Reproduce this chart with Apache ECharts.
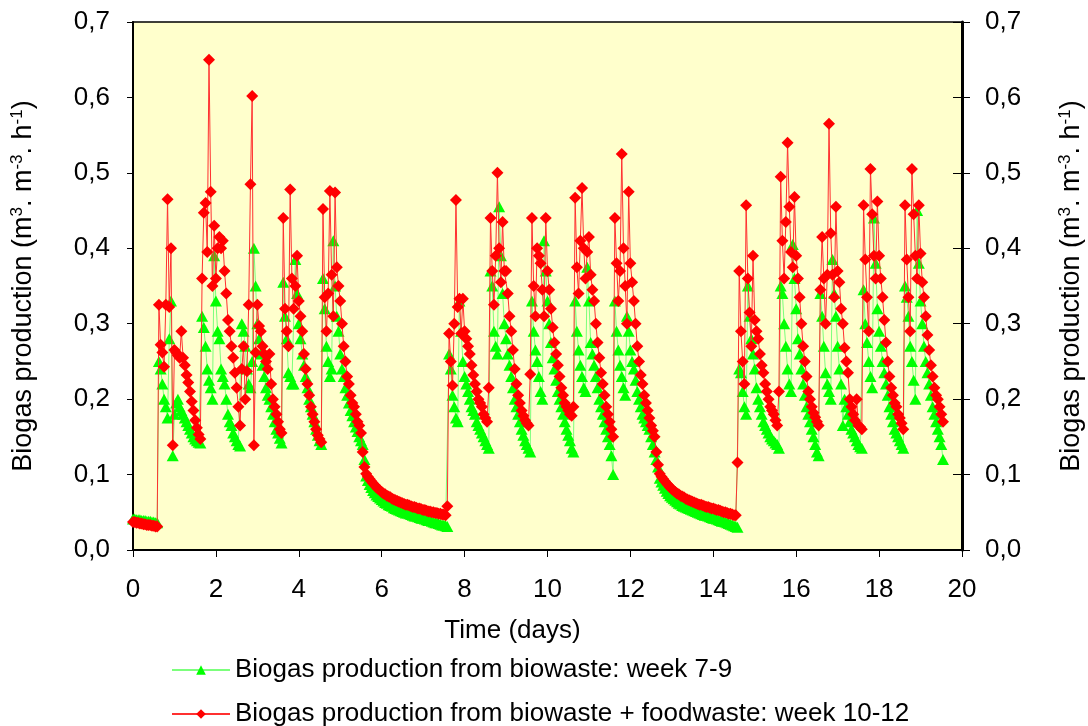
<!DOCTYPE html>
<html>
<head>
<meta charset="utf-8">
<script src="https://cdn.jsdelivr.net/npm/echarts@6/dist/echarts.min.js"></script>
<style>
html,body{margin:0;padding:0;background:#fff;overflow:hidden;}
#chart{width:1088px;height:726px;}
</style>
</head>
<body>
<div id="chart"></div>
<script>
// Hourly measurements; time of sample i = i * STEP_DAYS
const STEP_DAYS = 1 / 24;

const xTicks = [0, 2, 4, 6, 8, 10, 12, 14, 16, 18, 20];
const yTicks = [0, 0.1, 0.2, 0.3, 0.4, 0.5, 0.6, 0.7];

const seriesNames = [
  'Biogas production from biowaste: week 7-9',
  'Biogas production from biowaste + foodwaste: week 10-12'
];

// Biogas production from biowaste: week 7-9 (m3.m-3.h-1)
const greenValues = [
  .041,.041,.040,.040,.040,.039,.039,.039,.038,.038,.038,.037,.037,.036,.036,
  .25,.24,.22,.20,.19,.175,.28,.33,.125,.18,.195,.20,.19,.185,.18,.175,.17,.165,.16,.155,.15,.147,.145,.143,.142,
  .31,.295,.27,.24,.225,.215,.20,.39,.33,.29,.28,.24,.23,.22,.20,.18,.17,.165,.155,.15,.145,.14,.138,
  .30,.29,.27,.24,.22,.215,.25,.40,.35,.30,.28,.26,.245,.23,.215,.205,.20,.19,.18,.17,.16,.155,.148,.142,
  .355,.31,.28,.235,.23,.22,.22,.385,.34,.30,.28,.26,.245,.23,.215,.20,.19,.18,.17,.16,.152,.145,.14,
  .36,.32,.27,.25,.23,.24,.41,.35,.31,.29,.26,.24,.23,.215,.205,.195,.185,.178,.17,.163,.157,.15,.145,.14,.12,
  .098,.092,.087,.083,.079,.076,.073,.071,.069,.067,.065,.063,.062,.060,.059,.058,.056,.055,.054,.053,
  .052,.051,.050,.049,.049,.048,.047,.046,.045,.045,.044,.043,.042,.042,.041,.040,.039,.039,.038,.037,
  .036,.036,.035,.034,.033,.033,.032,.031,
  .26,.24,.205,.19,.175,.17,.33,.29,.25,.23,.22,.21,.20,.19,.185,.18,.17,.165,.16,.155,.15,.145,.14,.135,
  .37,.35,.29,.27,.26,.455,.39,.34,.30,.28,.26,.245,.23,.215,.20,.19,.18,.17,.16,.152,.145,.14,.135,.13,
  .33,.29,.265,.25,.23,.21,.20,.41,.37,.33,.30,.275,.255,.24,.225,.21,.20,.19,.18,.17,.16,.152,.145,.135,.13,
  .33,.29,.265,.245,.23,.215,.21,.375,.33,.275,.26,.245,.23,.215,.20,.19,.18,.17,.16,.15,.14,.125,.10,
  .33,.29,.265,.245,.23,.215,.205,.31,.29,.265,.25,.24,.225,.21,.20,.19,.18,.175,.17,.165,.16,.15,.14,.13,.12,.11,
  .095,.09,.086,.082,.078,.075,.072,.07,.068,.066,.064,.062,.061,.059,.058,.057,.056,.055,.054,.053,
  .052,.051,.05,.049,.048,.047,.046,.046,.045,.044,.043,.042,.042,.041,.04,.039,.038,.038,.037,.036,
  .035,.034,.033,.032,.031,.03,
  .24,.235,.21,.19,.18,.35,.31,.28,.26,.24,.215,.20,.19,.18,.17,.165,.16,.155,.15,.147,.145,.142,.14,.135,
  .35,.34,.30,.27,.24,.22,.21,.405,.36,.32,.28,.26,.24,.22,.205,.19,.18,.17,.16,.15,.14,.13,.125,
  .34,.31,.27,.235,.22,.21,.20,.385,.34,.31,.27,.24,.22,.165,.20,.19,.18,.17,.16,.155,.15,.145,.14,.137,.135,
  .345,.30,.275,.25,.23,.215,.44,.38,.32,.29,.27,.25,.235,.22,.205,.19,.18,.17,.16,.155,.15,.145,.14,.135,
  .35,.335,.31,.27,.25,.225,.20,.45,.38,.33,.30,.27,.25,.235,.22,.205,.19,.18,.17,.16,.15,.14,.12
];

// Biogas production from biowaste + foodwaste: week 10-12 (m3.m-3.h-1)
const redValues = [
  .037,.037,.036,.036,.035,.035,.034,.034,.033,.033,.033,.032,.032,.031,.031,
  .325,.272,.262,.243,.325,.465,.322,.40,.139,.265,.262,.258,.255,.29,.255,.245,.232,.222,.21,.197,.185,.172,.162,.153,.147,
  .36,.447,.46,.395,.65,.475,.35,.43,.36,.40,.415,.40,.41,.37,.34,.305,.29,.27,.255,.235,.215,.19,.165,
  .24,.27,.20,.237,.325,.485,.602,.139,.262,.325,.297,.29,.27,.26,.25,.24,.26,.22,.20,.19,.18,.17,.16,.155,
  .44,.32,.29,.27,.478,.36,.32,.35,.39,.33,.31,.29,.26,.24,.22,.205,.19,.18,.17,.16,.152,.147,.143,
  .452,.335,.29,.34,.476,.365,.31,.474,.375,.35,.33,.30,.27,.25,.23,.22,.205,.195,.19,.18,.17,.165,.155,.13,.11,
  .101,.097,.094,.091,.088,.086,.083,.081,.079,.077,.075,.074,.072,.071,.070,.068,.067,.066,.065,.064,
  .063,.062,.061,.060,.060,.059,.058,.057,.057,.056,.055,.055,.054,.053,.053,.052,.051,.051,.050,.050,
  .049,.049,.048,.048,.047,.047,.046,.058,
  .287,.25,.218,.30,.464,.322,.333,.287,.333,.29,.28,.27,.26,.245,.232,.22,.21,.20,.195,.19,.18,.175,.17,.215,
  .44,.37,.325,.39,.50,.40,.355,.435,.37,.37,.34,.31,.29,.265,.24,.22,.205,.195,.185,.178,.172,.168,.165,.233,
  .44,.35,.31,.40,.39,.38,.345,.31,.44,.37,.345,.32,.295,.275,.26,.245,.23,.215,.205,.195,.19,.185,.18,.178,.19,
  .467,.375,.34,.41,.48,.40,.36,.395,.415,.365,.345,.33,.30,.275,.255,.235,.22,.205,.19,.18,.17,.16,.15,
  .44,.38,.33,.37,.525,.40,.35,.30,.475,.38,.355,.33,.30,.27,.25,.232,.22,.205,.195,.185,.175,.165,.158,.15,.13,.113,
  .101,.097,.094,.091,.088,.086,.083,.081,.079,.077,.075,.074,.072,.071,.070,.068,.067,.066,.065,.064,
  .063,.062,.061,.060,.060,.059,.058,.057,.057,.056,.055,.055,.054,.053,.053,.052,.051,.050,.050,.049,
  .048,.048,.047,.046,.046,.116,
  .37,.29,.25,.22,.457,.36,.315,.27,.39,.305,.29,.28,.26,.245,.235,.22,.21,.20,.19,.185,.18,.172,.165,.21,
  .495,.41,.36,.435,.54,.455,.395,.375,.468,.39,.36,.335,.30,.27,.25,.23,.21,.20,.19,.182,.176,.17,.165,
  .345,.415,.36,.30,.365,.565,.42,.365,.335,.455,.37,.355,.32,.30,.268,.25,.235,.20,.19,.18,.172,.20,.165,.163,.16,
  .457,.385,.335,.29,.505,.445,.39,.36,.462,.39,.36,.335,.305,.275,.25,.23,.215,.205,.195,.19,.18,.175,.168,.16,
  .457,.385,.335,.29,.505,.445,.39,.36,.457,.393,.355,.335,.31,.285,.265,.245,.23,.215,.205,.20,.19,.18,.17
];

function toPairs(vals) {
  return vals.map(function (v, i) { return [i * STEP_DAYS, v]; });
}

const FONT = 'Arial, "Liberation Sans", Helvetica, sans-serif';
const FS = 26;
const FS_TITLE = 27;
const fmtComma = function (v) { return v.toFixed(1).replace('.', ','); };
const yTitle = 'Biogas production (m{sup|3}. m{sup|-3}. h{sup|-1})';
const titleRich = {
  sup: { fontSize: 17, fontFamily: FONT, color: '#000', padding: [0, 0, 12, 0] }
};

const chart = echarts.init(document.getElementById('chart'), null, { renderer: 'canvas' });

const yBase = {
  type: 'value',
  min: yTicks[0],
  max: yTicks[yTicks.length - 1],
  interval: 0.1,
  splitLine: { show: false }
};

const legendBase = {
  orient: 'horizontal',
  left: 166,
  itemWidth: 58,
  itemHeight: 12,
  textStyle: { fontSize: FS, color: '#000', fontFamily: FONT }
};

chart.setOption({
  animation: false,
  backgroundColor: '#ffffff',
  textStyle: { fontFamily: FONT },
  grid: {
    left: 133, right: 126, top: 22, bottom: 176,
    containLabel: false,
    outerBoundsMode: 'none',
    show: true, backgroundColor: '#FFFFCC', borderColor: '#000', borderWidth: 1.5
  },
  xAxis: {
    type: 'value',
    min: xTicks[0],
    max: xTicks[xTicks.length - 1],
    interval: 2,
    name: 'Time (days)',
    nameLocation: 'middle',
    nameGap: 68,
    nameTextStyle: { fontSize: FS, color: '#000', fontFamily: FONT, padding: [0, 70, 0, 0] },
    axisLine: { lineStyle: { color: '#000', width: 2 } },
    axisTick: { inside: false, length: 7, lineStyle: { color: '#000', width: 1 } },
    axisLabel: { fontSize: FS, color: '#000', margin: 27, fontFamily: FONT },
    splitLine: { show: false }
  },
  yAxis: [
    Object.assign({}, yBase, {
      position: 'left',
      name: yTitle,
      nameLocation: 'middle',
      nameGap: 95,
      nameRotate: 90,
      nameTextStyle: { fontSize: FS_TITLE, color: '#000', fontFamily: FONT, rich: titleRich },
      axisLine: { show: true, lineStyle: { color: '#000', width: 2 } },
      axisTick: { show: true, length: 6, lineStyle: { color: '#000' } },
      axisLabel: { fontSize: FS, color: '#000', margin: 23, formatter: fmtComma, fontFamily: FONT }
    }),
    Object.assign({}, yBase, {
      position: 'right',
      name: yTitle,
      nameLocation: 'middle',
      nameGap: 95,
      nameRotate: 90,
      nameTextStyle: { fontSize: FS_TITLE, color: '#000', fontFamily: FONT, rich: titleRich },
      axisLine: { show: true, lineStyle: { color: '#000', width: 3 } },
      axisTick: { show: true, length: 8, lineStyle: { color: '#000' } },
      axisLabel: { fontSize: FS, color: '#000', margin: 23, formatter: fmtComma, fontFamily: FONT }
    }),
    Object.assign({}, yBase, {
      position: 'right',
      axisLine: { show: false },
      axisTick: { show: true, inside: true, length: 9, lineStyle: { color: '#000' } },
      axisLabel: { show: false }
    })
  ],
  legend: [
    Object.assign({}, legendBase, { top: 652, data: [seriesNames[0]] }),
    Object.assign({}, legendBase, { top: 696, data: [seriesNames[1]] })
  ],
  series: [
    {
      name: seriesNames[0],
      type: 'line',
      yAxisIndex: 0,
      data: toPairs(greenValues),
      symbol: 'triangle',
      symbolSize: [12, 11],
      showAllSymbol: true,
      itemStyle: { color: '#00FF00' },
      lineStyle: { color: '#7CFF7C', width: 1 },
      z: 2
    },
    {
      name: seriesNames[1],
      type: 'line',
      yAxisIndex: 0,
      data: toPairs(redValues),
      symbol: 'diamond',
      symbolSize: 12,
      showAllSymbol: true,
      itemStyle: { color: '#FF0000' },
      lineStyle: { color: '#FF3030', width: 1 },
      z: 3
    }
  ]
});
</script>
</body>
</html>
